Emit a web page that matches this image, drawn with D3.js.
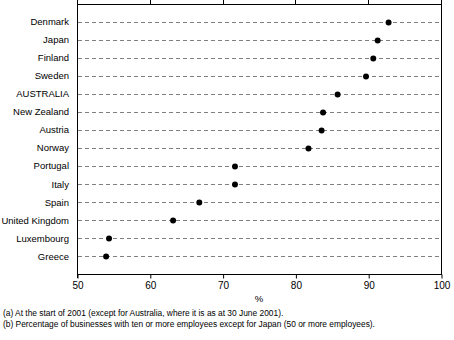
<!DOCTYPE html>
<html>
<head>
<meta charset="utf-8">
<script src="https://cdn.jsdelivr.net/npm/d3@7"></script>
<style>
  body { margin: 0; background: #fff; }
  svg { display: block; font-family: "Liberation Sans", Arial, sans-serif; }
</style>
</head>
<body>
<svg id="chart" width="454" height="340"></svg>
<script>
// Countries, top to bottom
const countries = ["Denmark", "Japan", "Finland", "Sweden", "AUSTRALIA", "New Zealand",
  "Austria", "Norway", "Portugal", "Italy", "Spain", "United Kingdom", "Luxembourg", "Greece"];
// Percentage of businesses (%)
const values = [92.8, 91.3, 90.7, 89.7, 85.8, 83.8, 83.6, 81.8, 71.7, 71.7, 66.8, 63.2, 54.4, 54.0];
const xTicks = [50, 60, 70, 80, 90, 100];
const xLabel = "%";
const notes = [
  "(a) At the start of 2001 (except for Australia, where it is as at 30 June 2001).",
  "(b) Percentage of businesses with ten or more employees except for Japan (50 or more employees)."
];

const svg = d3.select("#chart");
const m = { left: 77, right: 441, top: 4, bottom: 274 };

const x = d3.scaleLinear().domain([50, 100]).range([m.left, m.right]);
const y = d3.scalePoint().domain(countries).range([m.top, m.bottom]).padding(0.97);

// Dashed row guides
svg.append("g").selectAll("line").data(countries).join("line")
  .attr("x1", m.left + 1).attr("x2", m.right - 1)
  .attr("y1", d => Math.round(y(d)) + 0.5).attr("y2", d => Math.round(y(d)) + 0.5)
  .attr("stroke", "#808080").attr("stroke-width", 1)
  .attr("stroke-dasharray", "4,3");

// Frame
svg.append("rect")
  .attr("x", m.left + 0.5).attr("y", m.top + 0.5)
  .attr("width", m.right - m.left).attr("height", m.bottom - m.top)
  .attr("fill", "none").attr("stroke", "#000").attr("stroke-width", 1);

// Bottom axis
const bottom = svg.append("g").attr("transform", `translate(0.5,${m.bottom + 0.5})`)
  .call(d3.axisBottom(x).tickValues(xTicks).tickSize(4).tickPadding(3));
bottom.select(".domain").remove();
bottom.selectAll("text").attr("font-size", 10).attr("fill", "#000")
  .attr("font-family", "Liberation Sans, Arial, sans-serif");

// Top ticks pointing outward
svg.append("g").selectAll("line").data(xTicks).join("line")
  .attr("x1", d => Math.round(x(d)) + 0.5).attr("x2", d => Math.round(x(d)) + 0.5)
  .attr("y1", m.top + 0.5).attr("y2", 0)
  .attr("stroke", "#000");

// Left axis extends slightly below the frame
svg.append("line")
  .attr("x1", m.left + 0.5).attr("x2", m.left + 0.5)
  .attr("y1", m.bottom).attr("y2", m.bottom + 4)
  .attr("stroke", "#000");

// Category labels
svg.append("g").selectAll("text").data(countries).join("text")
  .attr("x", 69).attr("y", d => y(d))
  .attr("dy", "0.35em").attr("text-anchor", "end")
  .attr("font-size", 9.5).attr("fill", "#000")
  .text(d => d);

// Markers
svg.append("g").selectAll("path").data(values).join("path")
  .attr("transform", (v, i) => `translate(${x(v)},${Math.round(y(countries[i])) + 0.5})`)
  .attr("d", d3.symbol().type(d3.symbolCircle).size(28))
  .attr("fill", "#000");

// Axis title
svg.append("text")
  .attr("x", (m.left + m.right) / 2).attr("y", 299)
  .attr("dy", "0.35em").attr("text-anchor", "middle")
  .attr("font-size", 9.5).attr("fill", "#000")
  .text(xLabel);

// Footnotes
svg.append("g").selectAll("text").data(notes).join("text")
  .attr("x", 3).attr("y", (d, i) => 313 + i * 11.5)
  .attr("dy", "0.35em")
  .attr("font-size", 8.4).attr("fill", "#000")
  .text(d => d);
</script>
</body>
</html>
